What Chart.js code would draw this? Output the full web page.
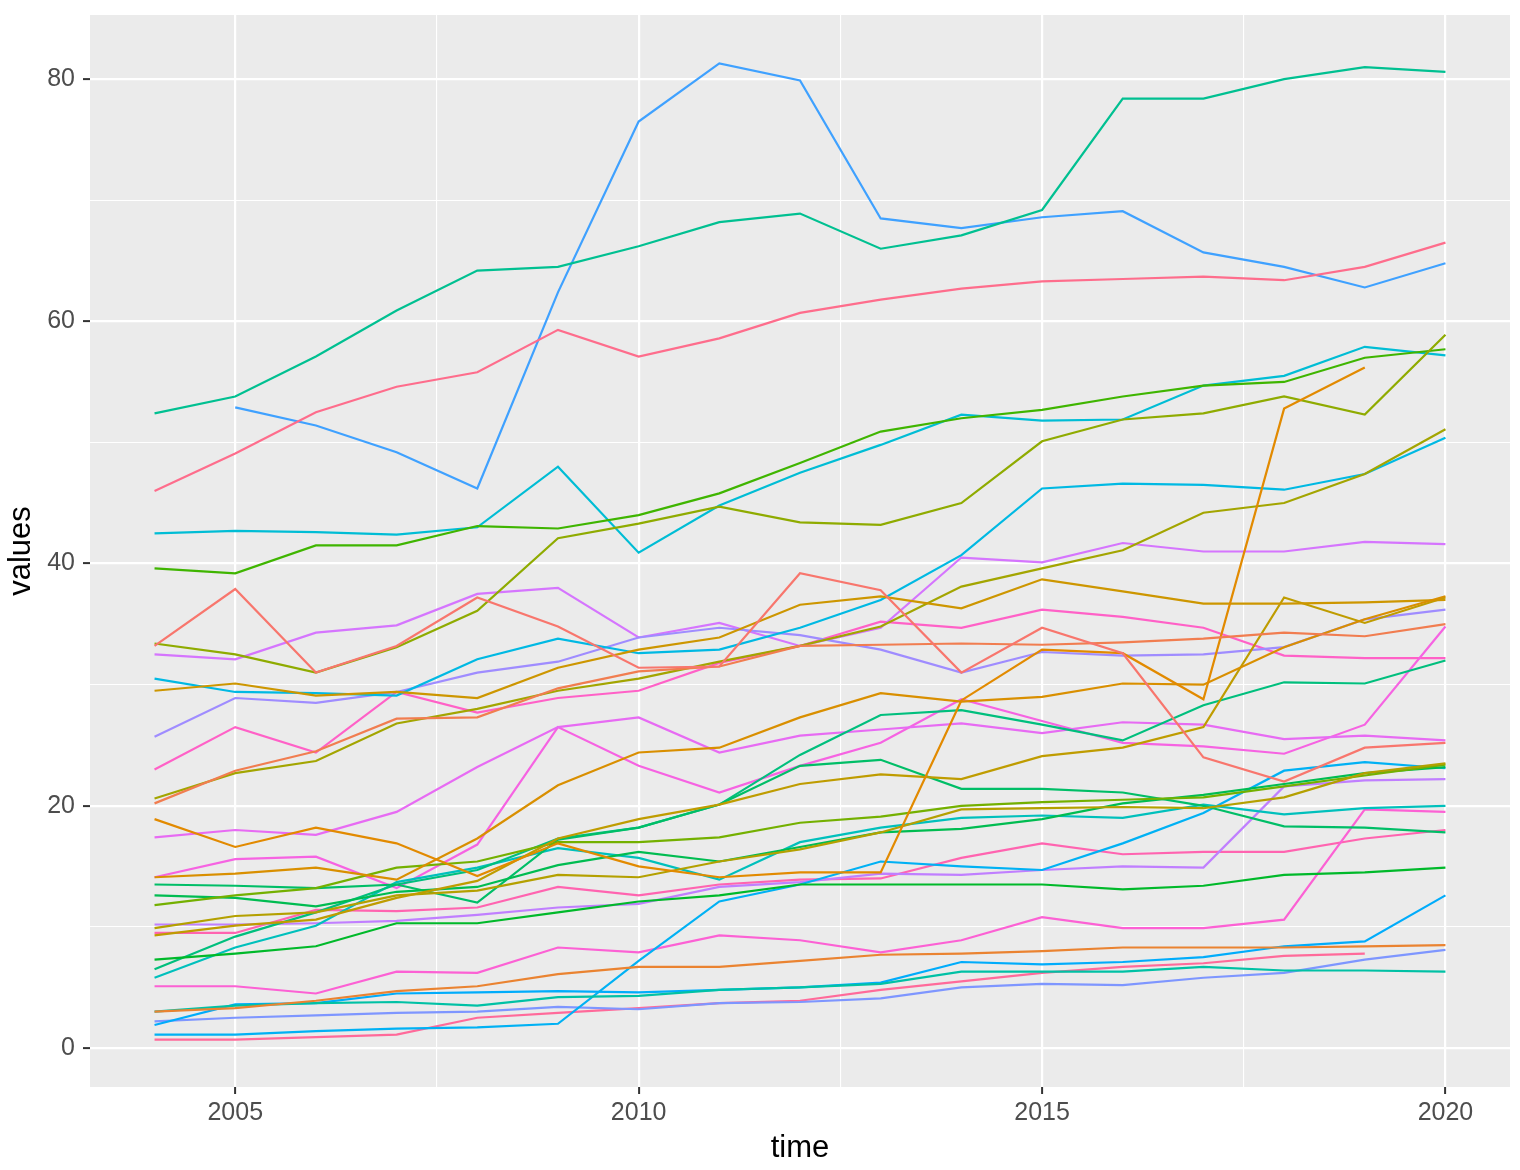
<!DOCTYPE html>
<html>
<head>
<meta charset="utf-8">
<script src="https://cdn.jsdelivr.net/npm/chart.js@4.4.0/dist/chart.umd.min.js"></script>
<style>
  html, body { margin: 0; padding: 0; background: #ffffff; }
  #wrap { width: 1520px; height: 1170px; }
</style>
</head>
<body>
<div id="wrap"><canvas id="chart" width="1520" height="1170"></canvas></div>
<script>
// x categories
const years = [2004, 2005, 2006, 2007, 2008, 2009, 2010, 2011, 2012, 2013, 2014, 2015, 2016, 2017, 2018, 2019, 2020];
const xTickLabels = [2005, 2010, 2015, 2020];
const yTickLabels = [0, 20, 40, 60, 80];

// one array per line, 2004..2020 (null = no value)
const pinkTop     = [46.0, 49.1, 52.5, 54.6, 55.8, 59.3, 57.1, 58.6, 60.7, 61.8, 62.7, 63.3, 63.5, 63.7, 63.4, 64.5, 66.5];
const salmon      = [33.2, 37.9, 31.0, 33.2, 37.2, 34.8, 31.4, 31.5, 39.2, 37.8, 31.0, 34.7, 32.6, 24.0, 22.0, 24.8, 25.2];
const orangeRed   = [20.2, 22.9, 24.5, 27.2, 27.3, 29.7, 31.1, 31.5, 33.2, 33.3, 33.4, 33.3, 33.5, 33.8, 34.3, 34.0, 35.0];
const orangeLow   = [3.0, 3.3, 3.9, 4.7, 5.1, 6.1, 6.7, 6.7, 7.2, 7.7, 7.8, 8.0, 8.3, 8.3, 8.3, 8.4, 8.5];
const orangeJump  = [18.9, 16.6, 18.2, 16.9, 14.2, 16.9, 15.0, 14.1, 14.5, 14.5, 28.7, 32.9, 32.6, 28.8, 52.8, 56.2, null];
const orangeRise  = [14.1, 14.4, 14.9, 13.9, 17.3, 21.7, 24.4, 24.8, 27.3, 29.3, 28.6, 29.0, 30.1, 30.0, 33.1, 35.4, 37.3];
const gold        = [29.5, 30.1, 29.1, 29.4, 28.9, 31.4, 32.9, 33.9, 36.6, 37.3, 36.3, 38.7, 37.7, 36.7, 36.7, 36.8, 37.0];
const oliveGold   = [9.3, 10.1, 10.6, 12.4, 13.8, 17.3, 18.9, 20.1, 21.8, 22.6, 22.2, 24.1, 24.8, 26.5, 37.2, 35.1, 37.2];
const olive       = [9.9, 10.9, 11.2, 12.6, 13.0, 14.3, 14.1, 15.4, 16.4, 17.8, 19.7, 19.8, 19.9, 19.8, 20.7, 22.7, 23.5];
const oliveMid    = [20.6, 22.7, 23.7, 26.8, 28.0, 29.5, 30.5, 31.9, 33.2, 34.8, 38.1, 39.6, 41.1, 44.2, 45.0, 47.4, 51.1];
const oliveGreen  = [33.4, 32.5, 31.0, 33.1, 36.1, 42.1, 43.3, 44.7, 43.4, 43.2, 45.0, 50.1, 51.9, 52.4, 53.8, 52.3, 58.9];
const greenA      = [11.8, 12.6, 13.2, 14.9, 15.4, 17.0, 17.0, 17.4, 18.6, 19.1, 20.0, 20.3, 20.5, 20.7, 21.6, 22.5, 23.4];
const greenTop    = [39.6, 39.2, 41.5, 41.5, 43.1, 42.9, 44.0, 45.8, 48.3, 50.9, 52.0, 52.7, 53.8, 54.7, 55.0, 57.0, 57.7];
const greenLow    = [7.3, 7.8, 8.4, 10.3, 10.3, 11.2, 12.1, 12.6, 13.5, 13.5, 13.5, 13.5, 13.1, 13.4, 14.3, 14.5, 14.9];
const greenB      = [12.6, 12.4, 11.7, 12.9, 13.3, 15.1, 16.2, 15.4, 16.6, 17.8, 18.1, 18.9, 20.2, 20.9, 21.8, 22.7, 23.2];
const tealB       = [13.5, 13.4, 13.2, 13.5, 12.0, 17.2, 18.2, 20.1, 23.3, 23.8, 21.4, 21.4, 21.1, 20.0, 18.3, 18.2, 17.8];
const tealA       = [6.5, 9.2, 11.2, 13.5, 14.7, 17.3, 18.2, 20.1, 24.2, 27.5, 27.9, 26.7, 25.4, 28.3, 30.2, 30.1, 32.0];
const tealTop     = [52.4, 53.8, 57.1, 60.9, 64.2, 64.5, 66.2, 68.2, 68.9, 66.0, 67.1, 69.2, 78.4, 78.4, 80.0, 81.0, 80.6];
const tealLow     = [3.0, 3.5, 3.7, 3.8, 3.5, 4.2, 4.3, 4.8, 5.0, 5.3, 6.3, 6.3, 6.3, 6.7, 6.4, 6.4, 6.3];
const cyanMid     = [5.8, 8.3, 10.1, 13.7, 14.9, 16.5, 15.7, 13.9, 17.0, 18.2, 19.0, 19.2, 19.0, 20.1, 19.3, 19.8, 20.0];
const cyanTop     = [42.5, 42.7, 42.6, 42.4, 43.0, 48.0, 40.9, 44.8, 47.5, 49.8, 52.3, 51.8, 51.9, 54.7, 55.5, 57.9, 57.2];
const skyCyan     = [30.5, 29.4, 29.3, 29.1, 32.1, 33.8, 32.6, 32.9, 34.7, 37.0, 40.7, 46.2, 46.6, 46.5, 46.1, 47.4, 50.4];
const skyRise     = [1.1, 1.1, 1.4, 1.6, 1.7, 2.0, 7.2, 12.1, 13.5, 15.4, 15.0, 14.7, 16.9, 19.4, 22.9, 23.6, 23.1];
const skyLow      = [1.9, 3.6, 3.7, 4.5, 4.6, 4.7, 4.6, 4.8, 5.0, 5.4, 7.1, 6.9, 7.1, 7.5, 8.4, 8.8, 12.6];
const blue        = [null, 52.9, 51.4, 49.2, 46.2, 62.4, 76.5, 81.3, 79.9, 68.5, 67.7, 68.6, 69.1, 65.7, 64.5, 62.8, 64.8];
const periwinkle  = [2.2, 2.5, 2.7, 2.9, 3.0, 3.4, 3.2, 3.7, 3.8, 4.1, 5.0, 5.3, 5.2, 5.8, 6.2, 7.3, 8.1];
const lavender    = [25.7, 28.9, 28.5, 29.4, 31.0, 31.9, 33.9, 34.7, 34.1, 32.9, 31.0, 32.7, 32.4, 32.5, 33.1, 35.4, 36.2];
const lilac       = [10.2, 10.2, 10.3, 10.5, 11.0, 11.6, 11.9, 13.3, 13.7, 14.4, 14.3, 14.7, 15.0, 14.9, 21.6, 22.1, 22.2];
const violet      = [32.5, 32.1, 34.3, 34.9, 37.5, 38.0, 33.9, 35.1, 33.2, 34.7, 40.5, 40.1, 41.7, 41.0, 41.0, 41.8, 41.6];
const magentaA    = [17.4, 18.0, 17.6, 19.5, 23.2, 26.5, 27.3, 24.4, 25.8, 26.3, 26.8, 26.0, 26.9, 26.7, 25.5, 25.8, 25.4];
const magentaB    = [14.1, 15.6, 15.8, 13.2, 16.8, 26.5, 23.3, 21.1, 23.3, 25.2, 28.8, 27.0, 25.2, 24.9, 24.3, 26.7, 34.8];
const magentaLow  = [5.1, 5.1, 4.5, 6.3, 6.2, 8.3, 7.9, 9.3, 8.9, 7.9, 8.9, 10.8, 9.9, 9.9, 10.6, 19.7, 19.5];
const pinkMid     = [23.0, 26.5, 24.4, 29.4, 27.7, 28.9, 29.5, 31.8, 33.2, 35.2, 34.7, 36.2, 35.6, 34.7, 32.4, 32.2, 32.2];
const pinkLow     = [9.5, 9.5, 11.4, 11.3, 11.6, 13.3, 12.6, 13.5, 13.9, 14.0, 15.7, 16.9, 16.0, 16.2, 16.2, 17.3, 18.0];
const pinkBottom  = [0.7, 0.7, 0.9, 1.1, 2.5, 2.9, 3.3, 3.7, 3.9, 4.8, 5.5, 6.2, 6.7, 7.0, 7.6, 7.8, null];

const lines = [pinkTop, salmon, orangeRed, orangeLow, orangeJump, orangeRise, gold, oliveGold, olive,
  oliveMid, oliveGreen, greenA, greenTop, greenLow, greenB, tealB, tealA, tealTop, tealLow, cyanMid,
  cyanTop, skyCyan, skyRise, skyLow, blue, periwinkle, lavender, lilac, violet, magentaA, magentaB,
  magentaLow, pinkMid, pinkLow, pinkBottom];

// hue of each line (ggplot style hcl, c = 100, l = 65)
const hues = [2, 15, 25, 33, 42, 50, 60, 70, 77,
  87, 97, 108, 122, 132, 142, 150, 159, 168, 178, 190,
  205, 215, 229, 236, 250, 261, 270, 282, 292, 303, 316,
  325, 333, 345, 356];

function hcl(h, c, l) {
  const rad = h * Math.PI / 180;
  const u = c * Math.cos(rad), v = c * Math.sin(rad);
  const Y = Math.pow((l + 16) / 116, 3);
  const xn = 0.95047, yn = 1.0, zn = 1.08883;
  const den = xn + 15 * yn + 3 * zn;
  const un = 4 * xn / den, vn = 9 * yn / den;
  const up = u / (13 * l) + un, vp = v / (13 * l) + vn;
  const X = Y * 9 * up / (4 * vp);
  const Z = Y * (12 - 3 * up - 20 * vp) / (4 * vp);
  const lin = [
    3.2404542 * X - 1.5371385 * Y - 0.4985314 * Z,
    -0.9692660 * X + 1.8760108 * Y + 0.0415560 * Z,
    0.0556434 * X - 0.2040259 * Y + 1.0572252 * Z
  ];
  return '#' + lin.map(c0 => {
    let g = c0 <= 0.0031308 ? 12.92 * c0 : 1.055 * Math.pow(c0, 1 / 2.4) - 0.055;
    g = Math.min(1, Math.max(0, g));
    return Math.round(g * 255).toString(16).padStart(2, '0');
  }).join('');
}

const datasets = lines.map((vals, i) => ({
  data: vals.map((v, j) => ({ x: years[j], y: v })),
  borderColor: hcl(hues[i], 100, 65),
  borderWidth: 2.2,
  pointRadius: 0,
  fill: false,
  tension: 0,
  spanGaps: false
}));

// grey panel behind the grid
const panelBg = {
  id: 'panelBg',
  beforeDraw(chart) {
    const { ctx, chartArea: a } = chart;
    ctx.save();
    ctx.fillStyle = '#EBEBEB';
    ctx.fillRect(a.left, a.top, a.right - a.left, a.bottom - a.top);
    ctx.restore();
  }
};

const family = "'Liberation Sans', Arial, Helvetica, sans-serif";
const xMajor = v => xTickLabels.includes(v);
const yMajor = v => yTickLabels.includes(v);

new Chart(document.getElementById('chart').getContext('2d'), {
  type: 'line',
  data: { datasets },
  options: {
    responsive: false,
    animation: false,
    layout: { padding: { left: 0, top: 15, right: 10, bottom: 0 } },
    plugins: {
      legend: { display: false },
      tooltip: { enabled: false }
    },
    scales: {
      x: {
        type: 'linear',
        min: 2003.2,
        max: 2020.8,
        afterBuildTicks: s => {
          s.ticks = [2005, 2007.5, 2010, 2012.5, 2015, 2017.5, 2020].map(v => ({ value: v }));
        },
        afterFit: s => {
          s.height = 83;
          s.paddingLeft = 0;
          s.paddingRight = 0;
        },
        border: { display: false },
        grid: {
          color: '#ffffff',
          lineWidth: c => xMajor(c.tick.value) ? 2.2 : 1.1,
          tickLength: 7,
          tickColor: c => xMajor(c.tick.value) ? '#333333' : 'rgba(0,0,0,0)',
          tickWidth: 2
        },
        ticks: {
          autoSkip: false,
          maxRotation: 0,
          padding: 4,
          color: '#4D4D4D',
          font: { family, size: 25 },
          callback: v => xMajor(v) ? String(v) : ''
        },
        title: {
          display: true,
          text: 'time',
          color: '#000000',
          font: { family, size: 31 },
          padding: { top: 0, bottom: 3 }
        }
      },
      y: {
        type: 'linear',
        min: -3.22,
        max: 85.3,
        afterBuildTicks: s => {
          s.ticks = [0, 10, 20, 30, 40, 50, 60, 70, 80].map(v => ({ value: v }));
        },
        afterFit: s => {
          s.width = 90;
          s.paddingTop = 0;
          s.paddingBottom = 0;
        },
        border: { display: false },
        grid: {
          color: '#ffffff',
          lineWidth: c => yMajor(c.tick.value) ? 2.2 : 1.1,
          tickLength: 7,
          tickColor: c => yMajor(c.tick.value) ? '#333333' : 'rgba(0,0,0,0)',
          tickWidth: 2
        },
        ticks: {
          autoSkip: false,
          padding: 8,
          color: '#4D4D4D',
          font: { family, size: 25 },
          callback: v => yMajor(v) ? String(v) : ''
        },
        title: {
          display: true,
          text: 'values',
          color: '#000000',
          font: { family, size: 31 },
          padding: { top: 3, bottom: 0 }
        }
      }
    }
  },
  plugins: [panelBg]
});
</script>
</body>
</html>
